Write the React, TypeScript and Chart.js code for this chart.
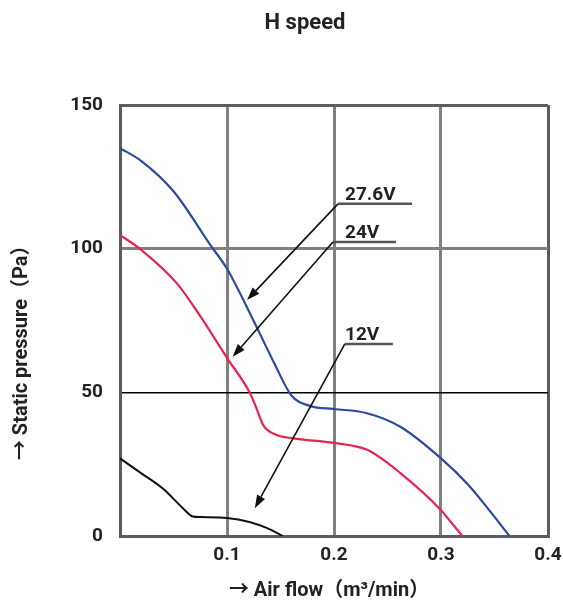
import { useEffect, useRef } from 'react';
import { Chart, registerables } from 'chart.js';

Chart.register(...registerables);

const chartTitle = 'H speed';
const xAxisTitle = '→ Air flow（m³/min）  ';
const yAxisTitle = '→ Static pressure（Pa）           ';

const xMin = 0;
const xMax = 0.4;
const xStep = 0.1;
const yMin = 0;
const yMax = 150;
const yStep = 50;

// 27.6V curve
const v276X = [0, 0.02, 0.05, 0.085, 0.1, 0.128, 0.145, 0.16, 0.178, 0.2, 0.23, 0.262, 0.3, 0.325, 0.345, 0.364];
const v276Y = [135, 130.5, 120, 101, 93, 72.5, 59.5, 49, 45.2, 44.2, 42.8, 38, 27, 18, 9, 0];

// 24V curve
const v24X = [0, 0.02, 0.053, 0.075, 0.1, 0.1215, 0.128, 0.134, 0.146, 0.162, 0.2, 0.231, 0.262, 0.3, 0.31, 0.32];
const v24Y = [104.8, 99.5, 88, 76.5, 62, 49.7, 44, 38.5, 35.2, 34, 32.4, 30, 21.9, 9, 4.5, 0];

// 12V curve
const v12X = [0, 0.02, 0.04, 0.059, 0.068, 0.075, 0.1, 0.121, 0.137, 0.152];
const v12Y = [27, 21.8, 16.5, 9.6, 6.8, 6.6, 6.3, 4.9, 2.8, 0];

// callouts (in data units)
const calloutLabels = ['27.6V', '24V', '12V'];
const calloutTipX = [0.1187, 0.1053, 0.126];
const calloutTipY = [82.1, 62.4, 9.7];
const calloutElbowX = [0.2037, 0.199, 0.21];
const calloutElbowY = [115.6, 102.3, 66.8];
const calloutEndX = [0.273, 0.258, 0.255];
const calloutTextX = [0.2103, 0.2103, 0.2103];

const FONT = 'Roboto, "Noto Sans CJK JP", sans-serif';
const BORDER = '#5c5c5c';
const GRID = '#808080';

const toPoints = (xs: number[], ys: number[]) => xs.map((x, i) => ({ x, y: ys[i] }));

const headerPlugin = {
  id: 'header',
  afterDraw(chart: any) {
    const { ctx } = chart;
    ctx.save();
    ctx.font = `bold 22px ${FONT}`;
    ctx.fillStyle = '#222';
    ctx.textAlign = 'center';
    ctx.textBaseline = 'middle';
    ctx.fillText(chartTitle, 305, 23);
    ctx.restore();
  },
};

const calloutPlugin = {
  id: 'callouts',
  afterDatasetsDraw(chart: any) {
    const { ctx, scales } = chart;
    const sx = scales.x;
    const sy = scales.y;
    ctx.save();
    for (let i = 0; i < calloutLabels.length; i++) {
      const ex = sx.getPixelForValue(calloutElbowX[i]);
      const ey = sy.getPixelForValue(calloutElbowY[i]);
      const endX = sx.getPixelForValue(calloutEndX[i]);
      const tx = sx.getPixelForValue(calloutTipX[i]);
      const ty = sy.getPixelForValue(calloutTipY[i]);
      ctx.strokeStyle = '#555';
      ctx.lineWidth = 2.5;
      ctx.beginPath();
      ctx.moveTo(ex, ey);
      ctx.lineTo(endX, ey);
      ctx.stroke();
      const ang = Math.atan2(ty - ey, tx - ex);
      const headLen = 13;
      const headW = 4.5;
      const bx = tx - Math.cos(ang) * headLen;
      const by = ty - Math.sin(ang) * headLen;
      ctx.strokeStyle = '#111';
      ctx.lineWidth = 1.6;
      ctx.beginPath();
      ctx.moveTo(ex, ey);
      ctx.lineTo(bx, by);
      ctx.stroke();
      ctx.fillStyle = '#111';
      ctx.beginPath();
      ctx.moveTo(tx, ty);
      ctx.lineTo(bx + Math.sin(ang) * headW, by - Math.cos(ang) * headW);
      ctx.lineTo(bx - Math.sin(ang) * headW, by + Math.cos(ang) * headW);
      ctx.closePath();
      ctx.fill();
      ctx.font = `bold 19px ${FONT}`;
      ctx.fillStyle = '#222';
      ctx.textAlign = 'left';
      ctx.textBaseline = 'alphabetic';
      ctx.fillText(calloutLabels[i], sx.getPixelForValue(calloutTextX[i]), ey - 4);
    }
    ctx.restore();
  },
};

export default function App() {
  const canvasRef = useRef<HTMLCanvasElement>(null);

  useEffect(() => {
    const canvas = canvasRef.current;
    if (!canvas) return;
    const chart = new Chart(canvas, {
      type: 'line',
      data: {
        datasets: [
          {
            label: '27.6V',
            data: toPoints(v276X, v276Y),
            borderColor: '#2c4a9e',
            borderWidth: 2.2,
            pointRadius: 0,
            cubicInterpolationMode: 'monotone',
            fill: false,
          },
          {
            label: '24V',
            data: toPoints(v24X, v24Y),
            borderColor: '#e8244c',
            borderWidth: 2.2,
            pointRadius: 0,
            cubicInterpolationMode: 'monotone',
            fill: false,
          },
          {
            label: '12V',
            data: toPoints(v12X, v12Y),
            borderColor: '#111111',
            borderWidth: 2,
            pointRadius: 0,
            cubicInterpolationMode: 'monotone',
            fill: false,
          },
        ],
      },
      options: {
        responsive: false,
        animation: false,
        devicePixelRatio: 1,
        layout: { padding: { top: 105, right: 15, left: 0, bottom: 0 } },
        plugins: {
          legend: { display: false },
          title: { display: false },
          tooltip: { enabled: false },
        },
        scales: {
          x: {
            type: 'linear',
            min: xMin,
            max: xMax,
            afterFit: (scale: any) => {
              scale.height = 71;
              scale.paddingRight = 0;
              scale.paddingLeft = 0;
            },
            ticks: {
              stepSize: xStep,
              padding: 8,
              color: '#222',
              maxRotation: 0,
              font: { family: FONT, size: 19, weight: 'bold' },
              callback: (v: any) => (Number(v) === 0 ? '' : Number(v).toFixed(1)),
            },
            grid: {
              drawTicks: false,
              color: (c: any) => {
                const v = c.tick ? c.tick.value : 0;
                if (Math.abs(v - xMax) < 1e-6) return BORDER;
                if (Math.abs(v) < 1e-6) return 'rgba(0,0,0,0)';
                return GRID;
              },
              lineWidth: 3,
            },
            border: { color: BORDER, width: 3 },
            title: {
              display: true,
              text: xAxisTitle,
              color: '#222',
              font: { family: FONT, size: 20, weight: 'bold' },
              padding: { top: 0, bottom: 4 },
            },
          },
          y: {
            type: 'linear',
            min: yMin,
            max: yMax,
            afterFit: (scale: any) => {
              scale.width = 120;
            },
            ticks: {
              stepSize: yStep,
              padding: 17,
              color: '#222',
              font: { family: FONT, size: 19, weight: 'bold' },
            },
            grid: {
              drawTicks: false,
              color: (c: any) => {
                const v = c.tick ? c.tick.value : 0;
                if (v === yMax) return BORDER;
                if (v === 50) return '#000000';
                if (v === 0) return 'rgba(0,0,0,0)';
                return GRID;
              },
              lineWidth: (c: any) => {
                const v = c.tick ? c.tick.value : 0;
                return v === 50 ? 1.6 : 3;
              },
            },
            border: { color: BORDER, width: 3 },
            title: {
              display: true,
              text: yAxisTitle,
              color: '#222',
              font: { family: FONT, size: 20, weight: 'bold' },
              padding: { top: 10, bottom: 0 },
            },
          },
        },
      },
      plugins: [calloutPlugin, headerPlugin],
    } as any);
    return () => chart.destroy();
  }, []);

  return (
    <div style={{ position: 'fixed', left: 0, top: 0, width: 563, height: 607, background: '#fff' }}>
      <canvas ref={canvasRef} width={563} height={607} style={{ width: 563, height: 607, display: 'block' }} />
    </div>
  );
}
